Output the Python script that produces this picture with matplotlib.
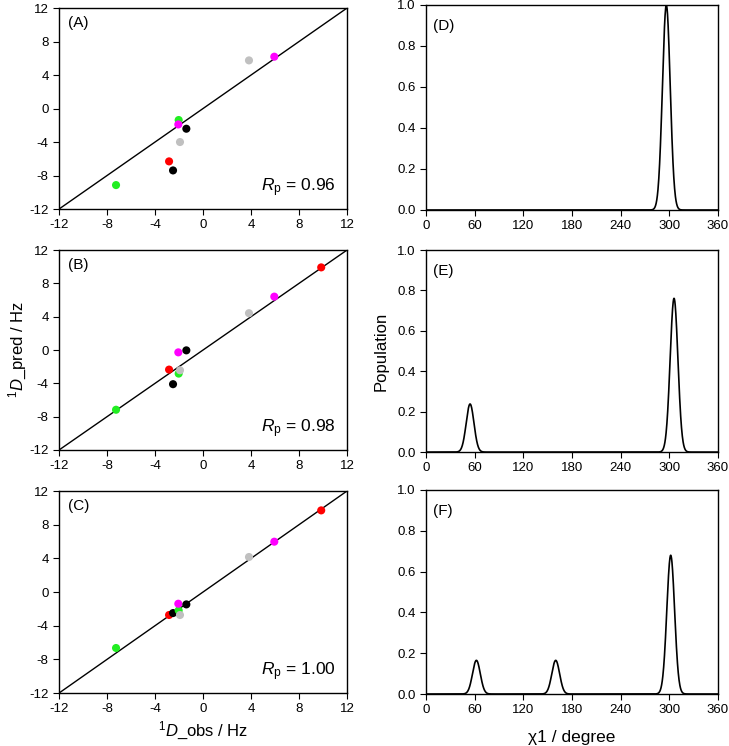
import numpy as np
import matplotlib.pyplot as plt

plt.rcParams['font.family'] = ['Liberation Sans', 'DejaVu Sans']
plt.rcParams['mathtext.fontset'] = 'custom'
plt.rcParams['mathtext.rm'] = 'Liberation Sans'
plt.rcParams['mathtext.it'] = 'Liberation Sans:italic'
plt.rcParams['axes.unicode_minus'] = False

# observed RDCs (shared by all three fits) and their colours
d_obs = [-7.25, -2.83, -2.5, -2.03, -2.06, -1.92, -1.39, 3.83, 5.94, 9.85]
colors = ['#22ee22', '#ff0000', '#000000', '#22ee22', '#ff00ff',
          '#c0c0c0', '#000000', '#c0c0c0', '#ff00ff', '#ff0000']

# predicted RDCs for each model (red point at 9.85 falls off the top in A)
d_pred_a = [-9.14, -6.31, -7.39, -1.37, -1.9, -4.0, -2.41, 5.75, 6.19, 14.0]
d_pred_b = [-7.17, -2.35, -4.1, -2.83, -0.28, -2.43, -0.04, 4.42, 6.41, 9.92]
d_pred_c = [-6.65, -2.73, -2.5, -2.18, -1.39, -2.73, -1.47, 4.16, 5.98, 9.7]
rp_values = ['0.96', '0.98', '1.00']

# chi1 rotamer populations: centres (deg), peak heights, width (deg)
peaks_d = ([296.3], [1.0])
peaks_e = ([54.3, 305.8], [0.238, 0.761])
peaks_f = ([62.1, 159.9, 301.7], [0.165, 0.165, 0.68])
peak_width = 4.8

fig = plt.figure(figsize=(7.29, 7.46), dpi=100)

left_pos = [[0.081, 0.7198, 0.395, 0.2694],
            [0.081, 0.3968, 0.395, 0.268],
            [0.081, 0.071, 0.395, 0.2708]]
right_pos = [[0.5844, 0.7185, 0.4005, 0.2748],
             [0.5844, 0.394, 0.4005, 0.2708],
             [0.5844, 0.0697, 0.4005, 0.2735]]


def style(ax):
    ax.tick_params(direction='out', length=4, width=0.8, labelsize=9.5,
                   top=False, right=False)
    for s in ax.spines.values():
        s.set_linewidth(1.0)


preds = [d_pred_a, d_pred_b, d_pred_c]
for i, (pos, pred, rp, lab) in enumerate(zip(left_pos, preds, rp_values, 'ABC')):
    ax = fig.add_axes(pos)
    ax.plot([-12, 12], [-12, 12], color='black', lw=1.0, zorder=1)
    ax.scatter(d_obs, pred, c=colors, s=34, zorder=3, linewidths=0)
    ax.set_xlim(-12, 12)
    ax.set_ylim(-12, 12)
    ax.set_xticks(range(-12, 13, 4))
    ax.set_yticks(range(-12, 13, 4))
    ax.text(0.03, 0.96, '(%s)' % lab, transform=ax.transAxes, fontsize=11,
            va='top', ha='left')
    ax.text(0.96, 0.05, r'$\mathit{R}_\mathrm{p}$ = ' + rp, transform=ax.transAxes,
            fontsize=12.5, va='bottom', ha='right')
    style(ax)
    if i == 1:
        ax.set_ylabel(r'$^{1}\mathit{D}$_pred / Hz', fontsize=12)
        ax.yaxis.set_label_coords(-0.105, 0.5)
    if i == 2:
        ax.set_xlabel(r'$^{1}\mathit{D}$_obs / Hz', fontsize=12, labelpad=3)

chi = np.linspace(0, 360, 1441)
for i, (pos, pk, lab) in enumerate(zip(right_pos, [peaks_d, peaks_e, peaks_f], 'DEF')):
    ax = fig.add_axes(pos)
    pop = np.zeros_like(chi)
    for c, h in zip(*pk):
        pop += h * np.exp(-0.5 * ((chi - c) / peak_width) ** 2)
    ax.plot(chi, pop, color='black', lw=1.2)
    ax.set_xlim(0, 360)
    ax.set_ylim(0, 1.0)
    ax.set_xticks(range(0, 361, 60))
    ax.set_yticks(np.arange(0, 1.01, 0.2))
    ax.set_yticklabels(['%.1f' % v for v in np.arange(0, 1.01, 0.2)])
    ax.text(0.025, 0.93, '(%s)' % lab, transform=ax.transAxes, fontsize=11,
            va='top', ha='left')
    style(ax)
    if i == 1:
        ax.set_ylabel('Population', fontsize=12, labelpad=6)
    if i == 2:
        ax.set_xlabel('χ1 / degree', fontsize=12.5, labelpad=10)

fig.savefig('out.png', dpi=100)
